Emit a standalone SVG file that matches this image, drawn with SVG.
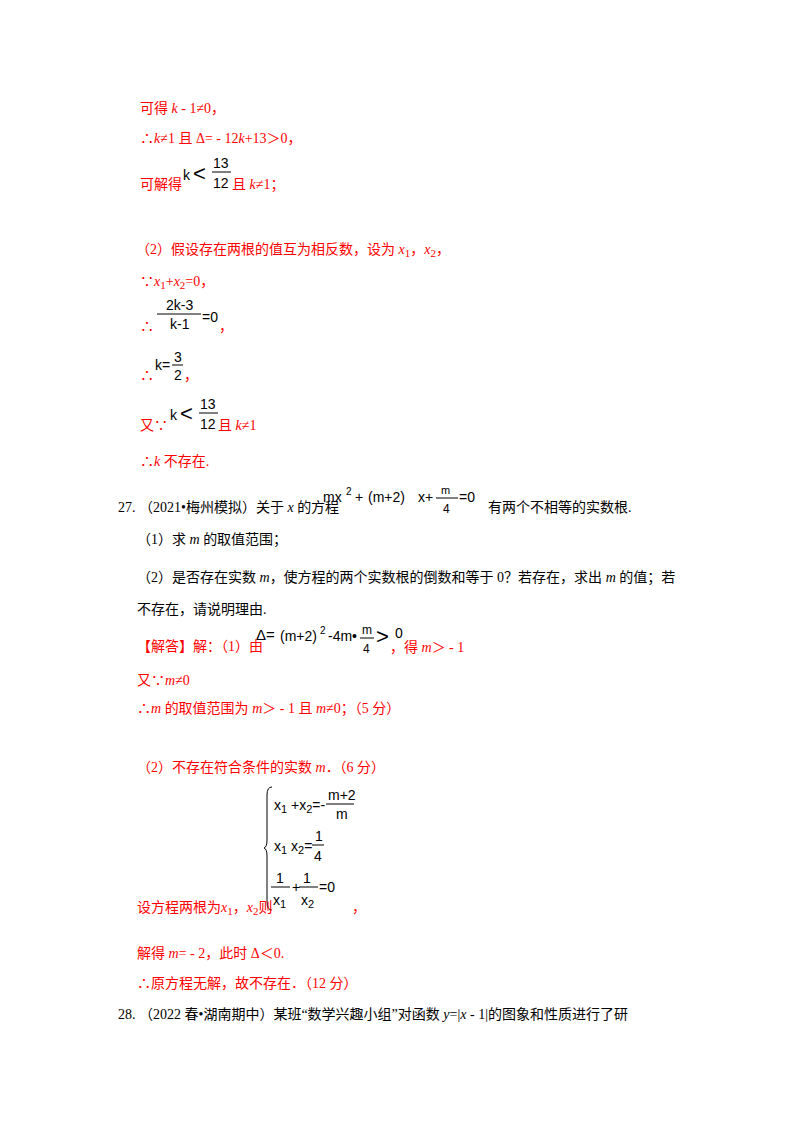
<svg xmlns="http://www.w3.org/2000/svg" width="800" height="1132" viewBox="0 0 800 1132">
<style>
text{font-family:"Liberation Serif","Noto Sans CJK SC",serif;font-size:14px}
.r{fill:#ff0000}
.b{fill:#000}
.f{font-family:"Liberation Sans","DejaVu Sans",sans-serif;fill:#000}
.s{font-size:11px}
.fl{stroke:#000;stroke-width:1}
</style>
<rect width="800" height="1132" fill="#fff"/>
<g id="sol26" class="r">
<text x="140" y="113" class="r">可得 <tspan font-style="italic">k</tspan> - 1≠0，</text>
<text x="140" y="143" class="r">∴<tspan font-style="italic">k</tspan>≠1 且 Δ= - 12<tspan font-style="italic">k</tspan>+13＞0，</text>
<text x="140" y="189" class="r">可解得</text>
<text x="183" y="180" class="f">k</text><text x="193" y="181" class="f" style="font-size:22px">&lt;</text>
<text x="213" y="168" class="f">13</text><line x1="212" y1="172" x2="231" y2="172" class="fl"/><text x="213" y="188" class="f">12</text>
<text x="232" y="189" class="r">且 <tspan font-style="italic">k</tspan>≠1；</text>
<text x="136" y="254" class="r">（2）假设存在两根的值互为相反数，设为 <tspan font-style="italic">x</tspan><tspan class="s" dy="3">1</tspan><tspan dy="-3">，</tspan><tspan font-style="italic">x</tspan><tspan class="s" dy="3">2</tspan><tspan dy="-3">，</tspan></text>
<text x="140" y="286" class="r">∵<tspan font-style="italic">x</tspan><tspan class="s" dy="3">1</tspan><tspan dy="-3">+</tspan><tspan font-style="italic">x</tspan><tspan class="s" dy="3">2</tspan><tspan dy="-3">=0，</tspan></text>
<text x="140" y="331" class="r">∴</text>
<line x1="157" y1="314" x2="201" y2="314" class="fl"/>
<text x="166" y="310" class="f">2k-3</text><text x="170" y="329" class="f">k-1</text>
<text x="202" y="322" class="f">=0</text><text x="219" y="331" class="r">，</text>
<text x="140" y="380" class="r">∴</text>
<text x="155" y="370" class="f">k=</text><text x="174" y="362" class="f">3</text>
<line x1="172" y1="365" x2="183" y2="365" class="fl"/><text x="174" y="380" class="f">2</text><text x="184" y="380" class="r">，</text>
<text x="140" y="430" class="r">又∵</text>
<text x="170" y="420" class="f">k</text><text x="180" y="421" class="f" style="font-size:22px">&lt;</text>
<text x="200" y="409" class="f">13</text><line x1="199" y1="413" x2="218" y2="413" class="fl"/><text x="200" y="429" class="f">12</text>
<text x="218" y="430" class="r">且 <tspan font-style="italic">k</tspan>≠1</text>
<text x="140" y="466" class="r">∴<tspan font-style="italic">k</tspan> 不存在.</text>
</g>
<g id="q27">
<text x="118" y="512" class="b">27.  （2021•梅州模拟）关于 <tspan font-style="italic">x</tspan> 的方程</text>
<text x="323" y="502" class="f">mx</text><text x="346" y="495" class="f" style="font-size:10px">2</text>
<text x="355" y="502" class="f">+</text><text x="368" y="502" class="f">(m+2)</text>
<text x="418" y="502" class="f">x+</text>
<line x1="436" y1="498" x2="458" y2="498" class="fl"/>
<text x="441" y="494" class="f" style="font-size:11px">m</text>
<text x="443" y="513" class="f" style="font-size:12px">4</text>
<text x="459" y="502" class="f">=0</text>
<text x="488" y="512" class="b">有两个不相等的实数根.</text>
<text x="137" y="544" class="b">（1）求 <tspan font-style="italic">m</tspan> 的取值范围；</text>
<text x="137" y="582" class="b">（2）是否存在实数 <tspan font-style="italic">m</tspan>，使方程的两个实数根的倒数和等于 0？若存在，求出 <tspan font-style="italic">m</tspan> 的值；若</text>
<text x="137" y="614" class="b">不存在，请说明理由.</text>
</g>
<g id="sol27">
<text x="137" y="651" class="r">【解答】解：（1）由</text>
<text x="256" y="640" class="f" style="font-size:15px">Δ=</text>
<text x="280" y="641" class="f">(m+2)</text>
<text x="320" y="634" class="f" style="font-size:10px">2</text>
<text x="328" y="641" class="f">-4m•</text>
<text x="362" y="634" class="f" style="font-size:12px">m</text>
<line x1="360" y1="638" x2="374" y2="638" class="fl"/>
<text x="363" y="653" class="f" style="font-size:12px">4</text>
<text x="376" y="644" class="f" style="font-size:22px">&gt;</text><text x="395" y="638" class="f">0</text>
<text x="390" y="652" class="r">，得 <tspan font-style="italic">m</tspan>＞ - 1</text>
<text x="137" y="685" class="r">又∵<tspan font-style="italic">m</tspan>≠0</text>
<text x="137" y="713" class="r">∴<tspan font-style="italic">m</tspan> 的取值范围为 <tspan font-style="italic">m</tspan>＞ - 1 且 <tspan font-style="italic">m</tspan>≠0；（5 分）</text>
<text x="137" y="772" class="r">（2）不存在符合条件的实数 <tspan font-style="italic">m</tspan>．（6 分）</text>
<path d="M272 787 Q267 787 267 795 L267 840 Q267 847 264 848 Q267 849 267 856 L267 902 Q267 910 272 910" fill="none" stroke="#000" stroke-width="1"/>
<text x="274" y="810" class="f">x<tspan class="s" dy="3">1</tspan><tspan dy="-3"> +x</tspan><tspan class="s" dy="3">2</tspan><tspan dy="-3">=-</tspan></text>
<text x="328" y="800" class="f">m+2</text><line x1="326" y1="804" x2="354" y2="804" class="fl"/><text x="336" y="819" class="f">m</text>
<text x="274" y="851" class="f">x<tspan class="s" dy="3">1</tspan><tspan dy="-3"> x</tspan><tspan class="s" dy="3">2</tspan><tspan dy="-3">=</tspan></text>
<text x="315" y="841" class="f">1</text><line x1="312" y1="845" x2="324" y2="845" class="fl"/><text x="314" y="861" class="f">4</text>
<text x="276" y="883" class="f">1</text><line x1="271" y1="887" x2="290" y2="887" class="fl"/>
<text x="273" y="905" class="f">x<tspan class="s" dy="3">1</tspan></text>
<text x="292" y="892" class="f">+</text>
<text x="303" y="883" class="f">1</text><line x1="299" y1="887" x2="318" y2="887" class="fl"/>
<text x="301" y="905" class="f">x<tspan class="s" dy="3">2</tspan></text>
<text x="319" y="892" class="f">=0</text>
<text x="137" y="912" class="r">设方程两根为<tspan font-style="italic">x</tspan><tspan class="s" dy="3">1</tspan><tspan dy="-3">，</tspan><tspan font-style="italic">x</tspan><tspan class="s" dy="3">2</tspan><tspan dy="-3">则</tspan></text>
<text x="352" y="912" class="r">，</text>
<text x="137" y="958" class="r">解得 <tspan font-style="italic">m</tspan>= - 2，此时 Δ＜0.</text>
<text x="137" y="988" class="r">∴原方程无解，故不存在．（12 分）</text>
</g>
<g id="q28">
<text x="118" y="1019" class="b">28.  （2022 春•湖南期中）某班“数学兴趣小组”对函数 <tspan font-style="italic">y</tspan>=|<tspan font-style="italic">x</tspan> - 1|的图象和性质进行了研</text>
</g>
</svg>
